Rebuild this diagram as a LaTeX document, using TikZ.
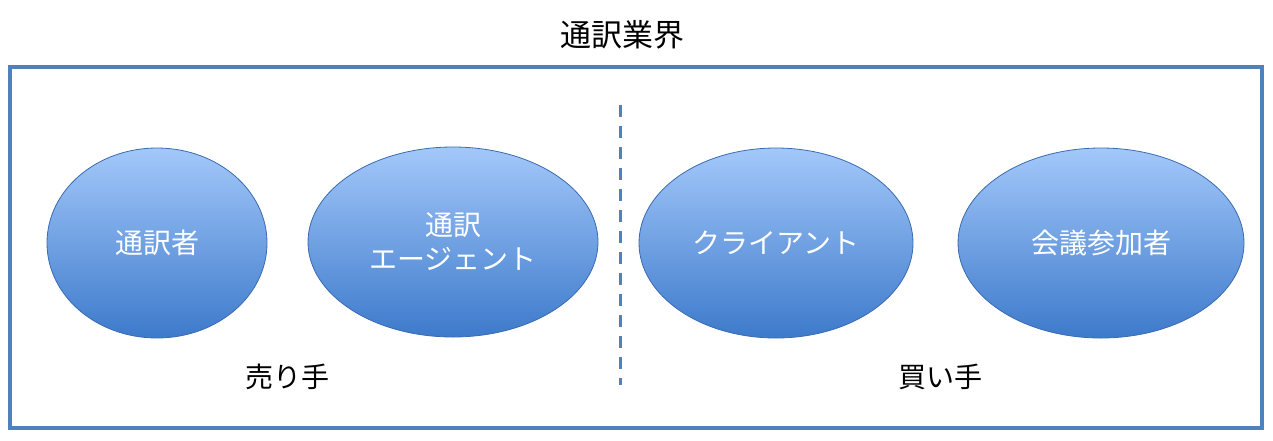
\documentclass[tikz,border=0pt]{standalone}
\usepackage{fontspec}
\setmainfont{Noto Sans CJK JP}
\usetikzlibrary{shapes.geometric}
\definecolor{frameblue}{HTML}{4F81BD}
\definecolor{topb}{HTML}{A3C8FA}
\definecolor{botb}{HTML}{3D7ACB}
\definecolor{edgeb}{HTML}{3A6BB0}
\tikzset{
  bubble/.style={ellipse,draw=edgeb,line width=0.8pt,top color=topb,bottom color=botb,
    text=white,font=\fontsize{28}{34}\selectfont,align=center,inner sep=0pt},
  lbl/.style={font=\fontsize{28}{34}\selectfont,text=black}
}
\begin{document}
\begin{tikzpicture}[x=1pt,y=-1pt]
\useasboundingbox (0,0) rectangle (1273,440);
\node[lbl,font=\fontsize{31}{36}\selectfont] (title) at (622,35) {通訳業界};
\draw[frameblue,line width=4.5pt] (10,67) rectangle (1262,428);
\node[bubble,minimum width=220pt,minimum height=190pt] (a) at (157,243) {通訳者};
\node[bubble,minimum width=290pt,minimum height=190pt] (b) at (453,242) {通訳\\エージェント};
\node[bubble,minimum width=274pt,minimum height=190pt] (c) at (776,243) {クライアント};
\node[bubble,minimum width=286pt,minimum height=190pt] (d) at (1101,243) {会議参加者};
\coordinate (t) at (620,105);
\coordinate (u) at (620,385);
\draw[frameblue,line width=3pt,dash pattern=on 12pt off 9pt] (t) -- (u);
\node[lbl] (s) at (287,377) {売り手};
\node[lbl] (k) at (940,377) {買い手};
\end{tikzpicture}
\end{document}
